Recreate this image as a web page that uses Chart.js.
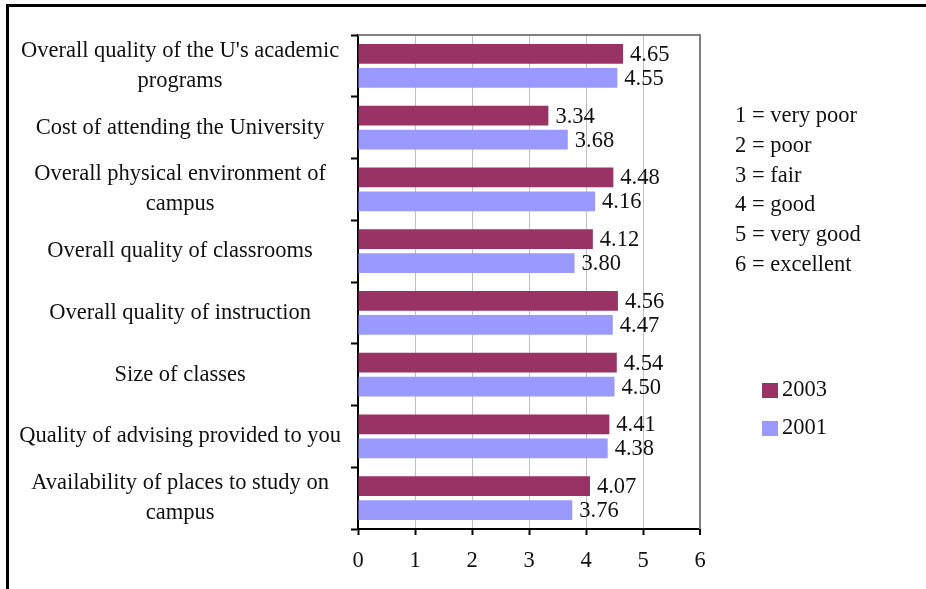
<!DOCTYPE html>
<html>
<head>
<meta charset="utf-8">
<script src="https://cdn.jsdelivr.net/npm/chart.js@4/dist/chart.umd.min.js"></script>
<style>
  body { margin: 0; background: #fff; }
  #wrap { width: 926px; height: 589px; }
</style>
</head>
<body>
<div id="wrap"><canvas id="ratingsChart"></canvas></div>
<script>
const categories = [
    ["Overall quality of the U's academic", "programs"],
    "Cost of attending the University",
    ["Overall physical environment of", "campus"],
    "Overall quality of classrooms",
    "Overall quality of instruction",
    "Size of classes",
    "Quality of advising provided to you",
    ["Availability of places to study on", "campus"]
];
const values2003 = [4.65, 3.34, 4.48, 4.12, 4.56, 4.54, 4.41, 4.07];
const values2001 = [4.55, 3.68, 4.16, 3.80, 4.47, 4.50, 4.38, 3.76];
const xTicks = [0, 1, 2, 3, 4, 5, 6];
const scaleNotes = [
    '1 = very poor',
    '2 = poor',
    '3 = fair',
    '4 = good',
    '5 = very good',
    '6 = excellent'
];

const serif = "'Liberation Serif', 'Times New Roman', serif";
const textColor = '#111';
const fontSize = 22.5;

// white page, black frame on the left and top edge
const pageFrame = {
    id: 'pageFrame',
    beforeDraw(chart) {
        const ctx = chart.ctx;
        ctx.save();
        ctx.fillStyle = '#fff';
        ctx.fillRect(0, 0, chart.width, chart.height);
        ctx.strokeStyle = '#000';
        ctx.lineWidth = 3;
        ctx.beginPath();
        ctx.moveTo(7.5, chart.height);
        ctx.lineTo(7.5, 5.5);
        ctx.lineTo(chart.width, 5.5);
        ctx.stroke();
        ctx.restore();
    },
    beforeDatasetsDraw(chart) {
        const a = chart.chartArea;
        const ctx = chart.ctx;
        ctx.save();
        ctx.strokeStyle = '#808080';
        ctx.lineWidth = 2;
        ctx.beginPath();
        ctx.moveTo(a.left, a.top);
        ctx.lineTo(a.right, a.top);
        ctx.lineTo(a.right, a.bottom);
        ctx.stroke();
        ctx.restore();
    }
};

// numbers at the end of each bar
const barValues = {
    id: 'barValues',
    afterDatasetsDraw(chart) {
        const ctx = chart.ctx;
        ctx.save();
        ctx.font = fontSize + 'px ' + serif;
        ctx.fillStyle = textColor;
        ctx.textAlign = 'left';
        ctx.textBaseline = 'middle';
        chart.data.datasets.forEach((ds, i) => {
            chart.getDatasetMeta(i).data.forEach((bar, j) => {
                ctx.fillText(ds.data[j].toFixed(2), bar.x + 7, bar.y + 1);
            });
        });
        ctx.restore();
    }
};

// rating key and series key on the right
const sideKey = {
    id: 'sideKey',
    afterDraw(chart) {
        const ctx = chart.ctx;
        ctx.save();
        ctx.font = fontSize + 'px ' + serif;
        ctx.fillStyle = textColor;
        ctx.textAlign = 'left';
        ctx.textBaseline = 'middle';
        scaleNotes.forEach((t, i) => {
            ctx.fillText(t, 735, 116 + i * 29.8);
        });
        chart.data.datasets.forEach((ds, i) => {
            const y = 390 + i * 38;
            ctx.fillStyle = ds.backgroundColor;
            ctx.fillRect(762, y - 7, 16, 15);
            ctx.fillStyle = textColor;
            ctx.fillText(ds.label, 782, y);
        });
        ctx.restore();
    }
};

new Chart(document.getElementById('ratingsChart'), {
    type: 'bar',
    data: {
        labels: categories,
        datasets: [
            {
                label: '2003',
                data: values2003,
                backgroundColor: '#993366',
                categoryPercentage: 0.777,
                barPercentage: 0.833
            },
            {
                label: '2001',
                data: values2001,
                backgroundColor: '#9999FF',
                categoryPercentage: 0.777,
                barPercentage: 0.833
            }
        ]
    },
    options: {
        indexAxis: 'y',
        responsive: true,
        maintainAspectRatio: false,
        animation: false,
        layout: { padding: { left: 0, top: 35, right: 226, bottom: 0 } },
        plugins: {
            legend: { display: false },
            tooltip: { enabled: false }
        },
        scales: {
            x: {
                min: 0,
                max: 6,
                afterBuildTicks: (scale) => {
                    scale.ticks = xTicks.map(v => ({ value: v }));
                },
                afterFit: (scale) => { scale.height = 60; },
                ticks: {
                    color: textColor,
                    font: { family: serif, size: fontSize },
                    padding: 13,
                    maxRotation: 0
                },
                grid: {
                    color: (c) => c.tick && c.tick.value === 6 ? '#808080' : '#c0c0c0',
                    lineWidth: (c) => c.tick && c.tick.value === 6 ? 2 : 1,
                    tickColor: '#000',
                    tickLength: 6,
                    tickWidth: 2
                },
                border: { color: '#000', width: 2 }
            },
            y: {
                afterFit: (scale) => {
                    scale.width = 358;
                    scale.paddingTop = 0;
                    scale.paddingBottom = 0;
                },
                ticks: {
                    color: textColor,
                    font: { family: serif, size: fontSize, lineHeight: 1.33 },
                    crossAlign: 'center',
                    autoSkip: false,
                    padding: 10
                },
                grid: {
                    drawOnChartArea: false,
                    offset: true,
                    tickColor: '#000',
                    tickLength: 7,
                    tickWidth: 2
                },
                border: { color: '#000', width: 2 }
            }
        }
    },
    plugins: [pageFrame, barValues, sideKey]
});
</script>
</body>
</html>
